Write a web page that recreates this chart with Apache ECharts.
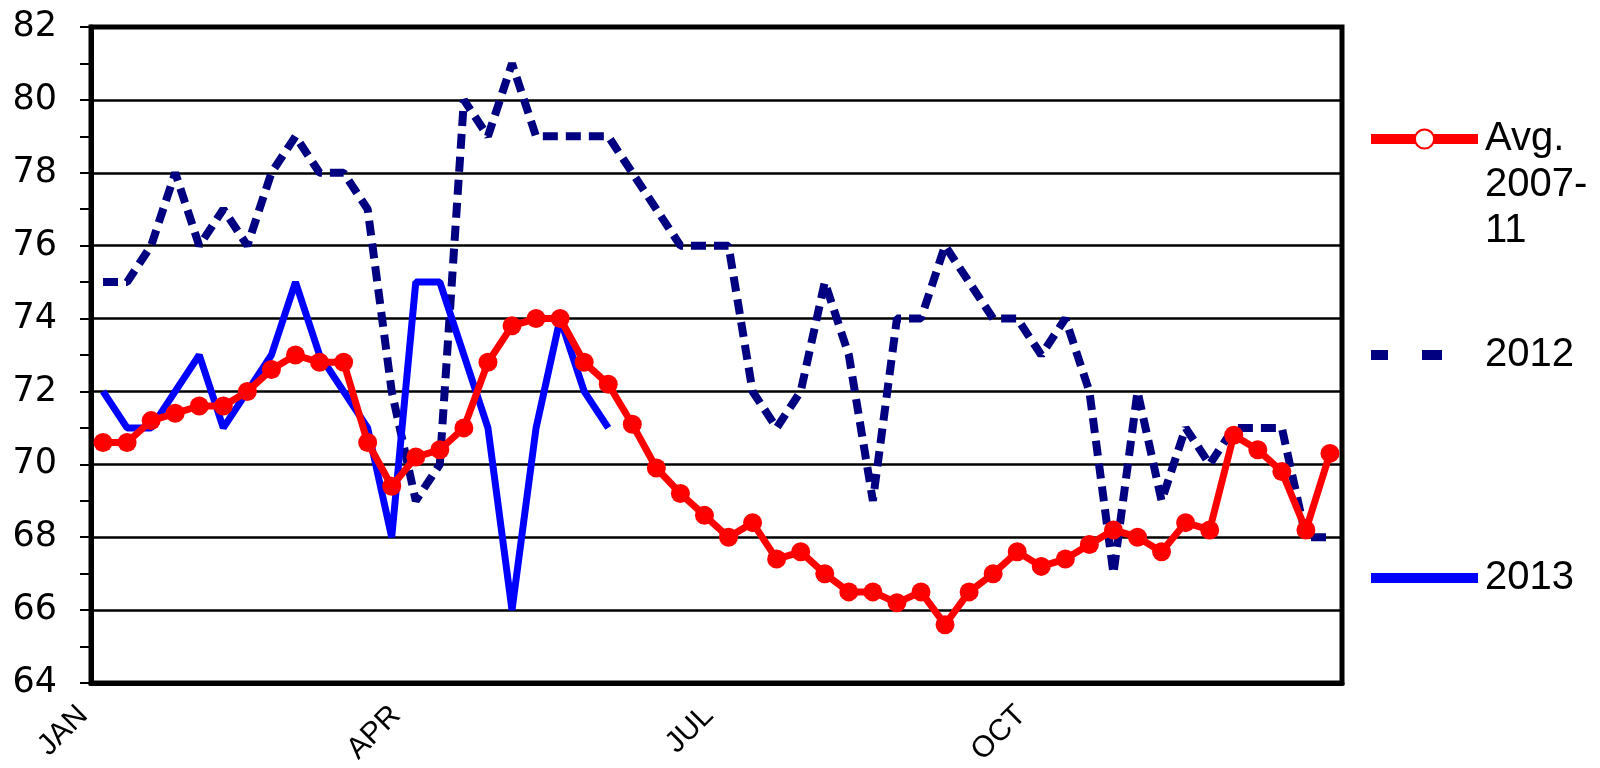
<!DOCTYPE html>
<html>
<head>
<meta charset="utf-8">
<title>Weekly index 2012-2013</title>
<script src="https://cdn.jsdelivr.net/npm/echarts@6/dist/echarts.min.js"></script>
<style>
  html, body { margin: 0; padding: 0; background: #fff; }
  #chart { width: 1600px; height: 768px; }
</style>
</head>
<body>
<div id="chart"></div>
<script>
// one category per week, month names only on the quarter weeks
const weekLabels = [
  'JAN', '', '', '', '', '', '', '', '', '', '', '', '',
  'APR', '', '', '', '', '', '', '', '', '', '', '', '',
  'JUL', '', '', '', '', '', '', '', '', '', '', '', '',
  'OCT', '', '', '', '', '', '', '', '', '', '', '', ''
]

const avg0711 = [
  70.6, 70.6, 71.2, 71.4, 71.6, 71.6, 72.0, 72.6, 73.0, 72.8, 72.8, 70.6, 69.4,
  70.2, 70.4, 71.0, 72.8, 73.8, 74.0, 74.0, 72.8, 72.2, 71.1, 69.9, 69.2, 68.6,
  68.0, 68.4, 67.4, 67.6, 67.0, 66.5, 66.5, 66.2, 66.5, 65.6, 66.5, 67.0, 67.6,
  67.2, 67.4, 67.8, 68.2, 68.0, 67.6, 68.4, 68.2, 70.8, 70.4, 69.8, 68.2, 70.3
]

const y2012 = [
  75, 75, 76, 78, 76, 77, 76, 78, 79, 78, 78, 77, 72,
  69, 70, 80, 79, 81, 79, 79, 79, 79, 78, 77, 76, 76,
  76, 72, 71, 72, 75, 73, 69, 74, 74, 76, 75, 74, 74,
  73, 74, 72, 67, 72, 69, 71, 70, 71, 71, 71, 68, 68
]

const y2013 = [
  72, 71, 71, 72, 73, 71, 72, 73, 75, 73, 72, 71, 68,
  75, 75, 73, 71, 66, 71, 74, 72, 71
]

const yMin = 64
const yMax = 82
const yStep = 2

const FONT = '"Liberation Sans", Arial, sans-serif'

const chart = echarts.init(document.getElementById('chart'))

const noMarker = { color: 'rgba(0,0,0,0)', borderWidth: 0 }

const legendBase = {
  orient: 'vertical',
  left: 1366,
  padding: 0,
  itemWidth: 107,
  itemHeight: 24,
  selectedMode: false,
  textStyle: {
    fontFamily: FONT,
    fontSize: 40,
    lineHeight: 46,
    color: '#000',
    padding: [0, 0, 0, 2]
  }
}

const option = {
  animation: false,
  backgroundColor: '#fff',
  grid: {
    left: 91,
    right: 258,
    top: 27,
    bottom: 85,
    outerBoundsMode: 'none',
    show: true,
    borderColor: '#000',
    borderWidth: 5
  },
  legend: [
    {
      ...legendBase,
      top: 24,
      // blank lines keep the marker level with the first line of text
      formatter: () => '\n\nAvg.\n2007-\n11',
      data: [{
        name: 'Avg. 2007-11',
        itemStyle: { color: '#fff', borderColor: '#ff0000', borderWidth: 2 },
        lineStyle: { width: 10 }
      }]
    },
    {
      ...legendBase,
      top: 332,
      data: [{ name: '2012', itemStyle: noMarker, lineStyle: { width: 10, type: [17, 34, 20, 60] } }]
    },
    {
      ...legendBase,
      top: 555,
      data: [{ name: '2013', itemStyle: noMarker, lineStyle: { width: 10 } }]
    }
  ],
  xAxis: {
    type: 'category',
    data: weekLabels,
    boundaryGap: true,
    axisLine: { lineStyle: { color: '#000', width: 5 } },
    axisTick: { interval: 0, length: 8, lineStyle: { color: '#000', width: 2 } },
    axisLabel: {
      interval: 0,
      rotate: 45,
      margin: 8,
      padding: [0, 28, 0, 0],
      color: '#000',
      fontFamily: FONT,
      fontSize: 30
    },
    splitLine: { show: false }
  },
  yAxis: {
    type: 'value',
    min: yMin,
    max: yMax,
    interval: yStep,
    axisLine: { show: true, lineStyle: { color: '#000', width: 5 } },
    axisTick: { show: true, length: 11, lineStyle: { color: '#000', width: 2 } },
    minorTick: { show: true, splitNumber: 2, length: 11, lineStyle: { color: '#000', width: 2 } },
    axisLabel: {
      margin: 34,
      color: '#000',
      fontFamily: '"DejaVu Sans", sans-serif',
      fontSize: 35
    },
    splitLine: { lineStyle: { color: '#000', width: 2.5 } }
  },
  series: [
    {
      name: '2012',
      type: 'line',
      data: y2012,
      symbol: 'none',
      lineStyle: { color: '#000080', width: 8, type: [15, 8], cap: 'butt' },
      itemStyle: { color: '#000080' }
    },
    {
      name: '2013',
      type: 'line',
      data: y2013,
      symbol: 'none',
      lineStyle: { color: '#0000ff', width: 7 },
      itemStyle: { color: '#0000ff' }
    },
    {
      name: 'Avg. 2007-11',
      type: 'line',
      data: avg0711,
      symbol: 'circle',
      symbolSize: 19,
      lineStyle: { color: '#ff0000', width: 7 },
      itemStyle: { color: '#ff0000' }
    }
  ]
}

chart.setOption(option)

window.addEventListener('resize', () => {
  chart.resize()
})
</script>
</body>
</html>
